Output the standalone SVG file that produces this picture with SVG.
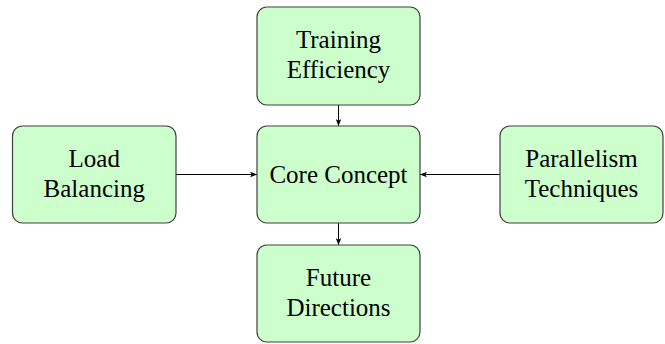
<svg xmlns="http://www.w3.org/2000/svg" width="665" height="344" viewBox="0 0 665 344">
<defs>
<style>
.node rect{fill:#ccffcc;stroke:#404040;stroke-width:1.2}
.node text{font-family:"Liberation Serif","Times New Roman",serif;font-size:25px;fill:#000;text-anchor:middle}
.edge{stroke:#000;stroke-width:1;fill:none;marker-end:url(#arr)}
</style>
<marker id="arr" viewBox="0 0 10 8" refX="10" refY="4" markerWidth="7" markerHeight="5.6" markerUnits="userSpaceOnUse" orient="auto">
<path d="M0,0 L10,4 L0,8 L2.5,4 Z" fill="#000"/>
</marker>
</defs>
<rect width="665" height="344" fill="#fff"/>
<g id="connectors">
<line class="edge" x1="338.5" y1="105" x2="338.5" y2="126"/>
<line class="edge" x1="176" y1="174.5" x2="257" y2="174.5"/>
<line class="edge" x1="500" y1="174.5" x2="420" y2="174.5"/>
<line class="edge" x1="338.5" y1="223" x2="338.5" y2="245"/>
</g>
<g id="training" class="node">
<rect x="257" y="7" width="163" height="98" rx="10"/>
<text x="338.5" y="48">Training</text>
<text x="338.5" y="78">Efficiency</text>
</g>
<g id="core" class="node">
<rect x="257" y="126" width="163" height="97" rx="10"/>
<text x="338.5" y="183">Core Concept</text>
</g>
<g id="load" class="node">
<rect x="12.5" y="126" width="163.5" height="97" rx="10"/>
<text x="94.25" y="167">Load</text>
<text x="94.25" y="197">Balancing</text>
</g>
<g id="parallel" class="node">
<rect x="500" y="126" width="163" height="97" rx="10"/>
<text x="581.5" y="167">Parallelism</text>
<text x="581.5" y="197">Techniques</text>
</g>
<g id="future" class="node">
<rect x="257" y="245" width="163" height="97" rx="10"/>
<text x="338.5" y="286">Future</text>
<text x="338.5" y="316">Directions</text>
</g>
</svg>
